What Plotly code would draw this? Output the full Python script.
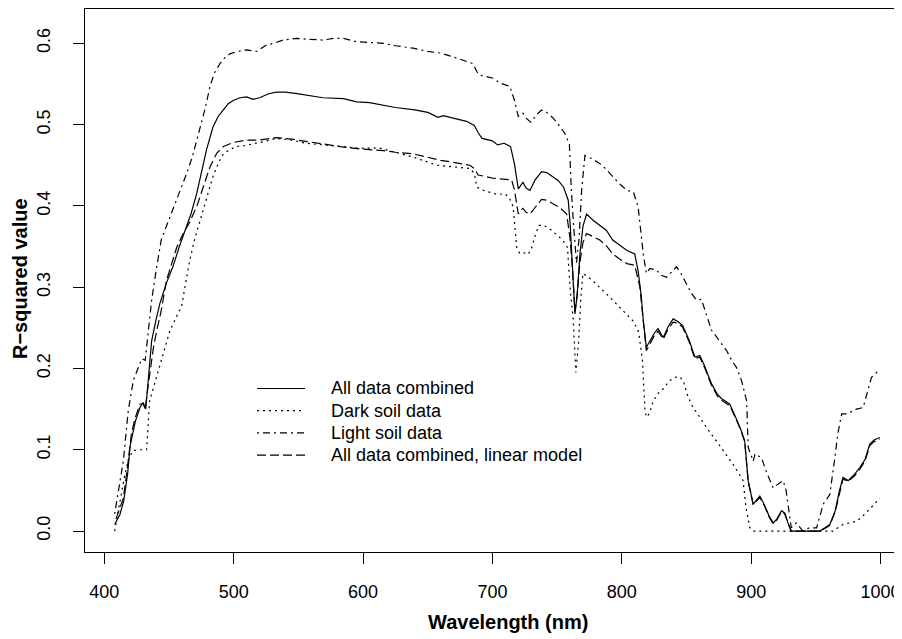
import plotly.graph_objects as go

# ---- data (wavelength in nm, R-squared) ----
all_wl = [408, 412, 415, 418, 420, 424, 427.6, 430, 432, 434, 436.6, 440, 443, 448, 453, 458,
          463.7, 467, 471.4, 475, 479, 484, 488, 492, 496, 500, 505, 510, 515, 520, 527, 533,
          540, 549, 560, 569, 585, 595, 605, 615, 625, 640, 650, 658, 662, 672, 680, 686, 689,
          692, 697, 700, 704, 709, 714, 717, 720, 722, 723.6, 726, 729, 733, 738, 742, 747, 751,
          755, 758.6, 760, 761.5, 763.8, 765.5, 767.6, 770, 772.8, 778, 783, 788, 793, 798, 804,
          810, 812.6, 815, 816.6, 819, 821.7, 825, 828, 832, 836, 839.7, 843, 847, 852, 856.5,
          860.3, 864, 869.4, 874, 877, 883.5, 888, 892, 895, 897.7, 901.6, 904, 906.7, 910, 914,
          917, 920, 923.5, 926, 928.5, 931, 940, 953, 957, 960.8, 965, 968, 971, 975, 980, 984,
          988, 991.7, 995, 999.5]
all_r2 = [0.008, 0.02, 0.037, 0.07, 0.105, 0.135, 0.152, 0.158, 0.15, 0.19, 0.234, 0.26, 0.28,
          0.305, 0.325, 0.35, 0.374, 0.39, 0.415, 0.44, 0.469, 0.497, 0.51, 0.518, 0.526, 0.53,
          0.533, 0.534, 0.531, 0.533, 0.538, 0.54, 0.54, 0.538, 0.535, 0.533, 0.532, 0.528, 0.527,
          0.524, 0.521, 0.518, 0.515, 0.509, 0.511, 0.507, 0.504, 0.499, 0.49, 0.483, 0.481, 0.48,
          0.475, 0.477, 0.473, 0.452, 0.421, 0.426, 0.429, 0.422, 0.419, 0.432, 0.442, 0.441,
          0.436, 0.431, 0.423, 0.407, 0.38, 0.34, 0.267, 0.29, 0.34, 0.375, 0.39, 0.382, 0.376,
          0.37, 0.358, 0.352, 0.345, 0.341, 0.32, 0.29, 0.259, 0.226, 0.234, 0.243, 0.249, 0.238,
          0.252, 0.261, 0.258, 0.253, 0.235, 0.214, 0.216, 0.203, 0.181, 0.168, 0.163, 0.156,
          0.14, 0.125, 0.111, 0.062, 0.033, 0.038, 0.043, 0.033, 0.018, 0.01, 0.015, 0.025, 0.022,
          0.01, 0.0, 0.0, 0.0, 0.004, 0.008, 0.025, 0.048, 0.066, 0.062, 0.07, 0.078, 0.088,
          0.107, 0.112, 0.115]

dark_wl = [408, 412, 416, 419, 422.4, 428, 432.7, 435, 440.5, 445, 450.8, 455, 459.8, 466, 470,
           474, 479, 484, 488, 492, 497, 502, 508, 515, 523, 533, 545, 556, 570, 582, 597, 613,
           625, 638.8, 648, 657, 670, 682.6, 686, 688, 693, 698, 704, 709.6, 713, 716, 718.8,
           721, 723.6, 727, 729.7, 733.5, 736, 738.7, 742.6, 747, 751.6, 755, 758, 760, 762.5,
           764.5, 766.5, 768.5, 770, 776, 783, 788, 793, 798, 804, 809, 813, 816, 818, 819.5,
           821.7, 824.3, 828, 832, 837, 841, 844.6, 847.5, 851, 855, 860.4, 866, 873, 880, 886,
           890, 893.8, 896, 899, 901.6, 920, 940, 963.4, 967, 971, 976, 981.5, 986, 989, 993,
           997, 999.5]
dark_r2 = [0.0, 0.037, 0.07, 0.09, 0.099, 0.1, 0.1, 0.16, 0.189, 0.215, 0.247, 0.262, 0.277,
           0.333, 0.36, 0.382, 0.41, 0.436, 0.452, 0.464, 0.469, 0.473, 0.474, 0.476, 0.479,
           0.483, 0.481, 0.477, 0.475, 0.473, 0.471, 0.471, 0.466, 0.46, 0.455, 0.45, 0.448,
           0.446, 0.44, 0.423, 0.419, 0.417, 0.414, 0.415, 0.41, 0.399, 0.349, 0.342, 0.343,
           0.34, 0.345, 0.366, 0.376, 0.376, 0.374, 0.368, 0.362, 0.356, 0.349, 0.3, 0.259,
           0.195, 0.23, 0.29, 0.317, 0.31, 0.3, 0.292, 0.284, 0.276, 0.267, 0.258, 0.245, 0.21,
           0.146, 0.14, 0.146, 0.16, 0.169, 0.175, 0.185, 0.189, 0.19, 0.185, 0.166, 0.152, 0.14,
           0.126, 0.111, 0.096, 0.082, 0.072, 0.062, 0.029, 0.004, 0.0, 0.0, 0.0, 0.0, 0.004,
           0.008, 0.01, 0.012, 0.018, 0.023, 0.03, 0.037, 0.04]

light_wl = [408, 411, 414.7, 418.5, 422.4, 426, 429, 431.6, 433, 436.6, 440, 444, 448, 453, 458,
            463.7, 468, 474, 478, 481.7, 485, 489.4, 493, 497, 503, 510, 517.8, 525.5, 531, 538,
            548.7, 558, 569, 577, 585, 595, 605, 615.6, 625, 638.8, 650, 660, 672, 685, 688, 690,
            700.6, 706, 713.5, 717, 720, 723.6, 726, 729.7, 734, 738, 742, 747, 752, 756, 759.5,
            761, 763, 765, 767, 769, 771.5, 777, 783, 788, 793, 799, 804, 809, 812.6, 814.5,
            816.6, 819, 821.7, 827, 830, 834.6, 838, 842.3, 846, 850, 854, 857.8, 861.6, 865,
            869.4, 875, 881, 885, 888.7, 892.6, 896.5, 897.7, 901.6, 903, 908, 912, 917, 921,
            924.7, 927, 929, 931, 935, 940, 945, 950.6, 955.7, 960.8, 964.7, 967, 970, 974,
            976.3, 981.5, 986.6, 989, 993, 999.5]
light_r2 = [0.021, 0.05, 0.086, 0.148, 0.185, 0.2, 0.212, 0.21, 0.23, 0.284, 0.32, 0.358, 0.375,
            0.395, 0.415, 0.44, 0.46, 0.497, 0.52, 0.547, 0.563, 0.575, 0.582, 0.587, 0.59,
            0.592, 0.59, 0.598, 0.6, 0.604, 0.606, 0.605, 0.604, 0.606, 0.606, 0.602, 0.601, 0.6,
            0.597, 0.594, 0.59, 0.588, 0.582, 0.575, 0.565, 0.561, 0.557, 0.551, 0.547, 0.53,
            0.51, 0.514, 0.508, 0.503, 0.512, 0.518, 0.515, 0.508, 0.498, 0.489, 0.476, 0.42,
            0.37, 0.33, 0.36, 0.42, 0.462, 0.458, 0.452, 0.445, 0.436, 0.426, 0.419, 0.417,
            0.399, 0.37, 0.341, 0.317, 0.323, 0.321, 0.315, 0.312, 0.318, 0.325, 0.316, 0.304,
            0.292, 0.284, 0.285, 0.268, 0.247, 0.235, 0.222, 0.21, 0.201, 0.185, 0.16, 0.103,
            0.086, 0.095, 0.09, 0.072, 0.053, 0.058, 0.062, 0.05, 0.025, 0.004, 0.01, 0.0, 0.004,
            0.004, 0.033, 0.045, 0.09, 0.12, 0.144, 0.144, 0.146, 0.15, 0.152, 0.165, 0.189,
            0.199]

lin_wl = [409, 414.7, 418, 421, 424, 427.6, 430, 431.6, 434, 438, 441, 444, 448, 452, 456, 461,
          466, 471.4, 476, 481.7, 487, 492, 499.7, 510, 520, 533, 545, 556, 570, 582, 598, 615.6,
          625, 638.8, 650, 660, 672, 682.6, 686, 689, 695, 700.6, 708, 714.8, 717, 720, 722,
          723.6, 726, 729, 733, 738, 742, 747, 752, 757.4, 760, 762, 763.8, 765.5, 767.6, 770,
          772.8, 778, 783, 788, 793, 798, 804, 810, 814, 816.6, 819, 821.7, 825, 828, 832, 836,
          839.7, 843, 847, 852, 856.5, 860.3, 864, 869.4, 874, 877, 883.5, 888, 892, 895, 897.7,
          901.6, 904, 906.7, 910, 914, 917, 920, 923.5, 926, 928.5, 931, 953, 957, 960.8, 965,
          968, 971, 975, 980, 984, 988, 991.7, 995, 999.5]
lin_r2 = [0.015, 0.04, 0.08, 0.12, 0.14, 0.156, 0.157, 0.15, 0.18, 0.226, 0.25, 0.271, 0.308,
          0.33, 0.349, 0.366, 0.38, 0.399, 0.42, 0.448, 0.465, 0.473, 0.478, 0.481, 0.481, 0.484,
          0.482, 0.479, 0.476, 0.473, 0.47, 0.468, 0.466, 0.464, 0.46, 0.456, 0.453, 0.45,
          0.446, 0.438, 0.436, 0.434, 0.433, 0.432, 0.42, 0.39, 0.395, 0.397, 0.392, 0.39,
          0.398, 0.408, 0.407, 0.403, 0.398, 0.39, 0.36, 0.32, 0.27, 0.29, 0.33, 0.355, 0.366,
          0.362, 0.358, 0.351, 0.341, 0.335, 0.329, 0.327, 0.3, 0.259, 0.222, 0.23, 0.24, 0.246,
          0.236, 0.249, 0.257, 0.256, 0.251, 0.233, 0.212, 0.214, 0.201, 0.179, 0.166, 0.161,
          0.154, 0.139, 0.124, 0.11, 0.061, 0.032, 0.037, 0.041, 0.032, 0.017, 0.009, 0.014,
          0.024, 0.021, 0.009, 0.0, 0.0, 0.003, 0.007, 0.024, 0.046, 0.064, 0.061, 0.068, 0.076,
          0.086, 0.105, 0.11, 0.113]

series_names = ['All data combined', 'Dark soil data', 'Light soil data',
                'All data combined, linear model']
x_ticks = [400, 500, 600, 700, 800, 900, 1000]
y_ticks = [0.0, 0.1, 0.2, 0.3, 0.4, 0.5, 0.6]

FONT = 'Liberation Sans, Arial, sans-serif'
# the page body has an 8px margin, so the figure is drawn 8px in from the corner
PAGE_OFF = 8
W, H = 894, 631
ML, MR, MT, MB = 77, 0, 1, 87
DASHES = ['solid', '2px,4px', '2px,4px,7px,4px', '9px,4px']


def page_to_paper(x, y):
    """pixel position in the browser page -> paper coordinates of the plot area"""
    fx, fy = x - PAGE_OFF, y - PAGE_OFF
    return (fx - ML) / (W - ML - MR), (H - MB - fy) / (H - MT - MB)


fig = go.Figure()
for wl, r2, name, dash in zip([all_wl, dark_wl, light_wl, lin_wl],
                              [all_r2, dark_r2, light_r2, lin_r2],
                              series_names, DASHES):
    fig.add_trace(go.Scatter(x=wl, y=r2, mode='lines', name=name,
                             line=dict(color='black', width=1.2, dash=dash)))

# boxless legend drawn like R's legend(bty='n')
for i, (name, dash) in enumerate(zip(series_names, DASHES)):
    yy = 388.5 + i * 22.2
    x0, y0 = page_to_paper(257, yy)
    x1, _ = page_to_paper(305, yy)
    xt, _ = page_to_paper(329, yy)
    fig.add_shape(type='line', xref='paper', yref='paper', x0=x0, x1=x1, y0=y0, y1=y0,
                  line=dict(color='black', width=1.2, dash=dash))
    fig.add_annotation(xref='paper', yref='paper', x=xt, y=y0, text=name, showarrow=False,
                       xanchor='left', yanchor='middle', font=dict(size=18, color='black'))

# axis titles
tx, ty = page_to_paper(508, 622)
fig.add_annotation(xref='paper', yref='paper', x=tx, y=ty, text='<b>Wavelength (nm)</b>',
                   showarrow=False, xanchor='center', yanchor='middle',
                   font=dict(size=20, color='black'))
tx, ty = page_to_paper(20, 279)
fig.add_annotation(xref='paper', yref='paper', x=tx, y=ty, text='<b>R\u2212squared value</b>',
                   showarrow=False, xanchor='center', yanchor='middle', textangle=-90,
                   font=dict(size=20, color='black'))

fig.update_layout(
    width=W, height=H,
    margin=dict(l=ML, r=MR, t=MT, b=MB),
    paper_bgcolor='white', plot_bgcolor='white',
    font=dict(family=FONT, size=18, color='black'),
    showlegend=False,
)
fig.update_xaxes(range=[385.08, 1016.6], tickvals=x_ticks, ticks='outside', ticklen=11,
                 tickwidth=1, tickcolor='black', showgrid=False, zeroline=False,
                 showline=True, linecolor='black', linewidth=1, mirror=True,
                 ticklabelstandoff=12, automargin=False)
fig.update_yaxes(range=[-0.0258, 0.6422], tickvals=y_ticks, tickformat='.1f', ticks='outside',
                 ticklen=11, tickwidth=1, tickcolor='black', showgrid=False, zeroline=False,
                 showline=True, linecolor='black', linewidth=1, tickangle=-90,
                 ticklabelstandoff=16, automargin=False)

fig.write_html("out.html")
